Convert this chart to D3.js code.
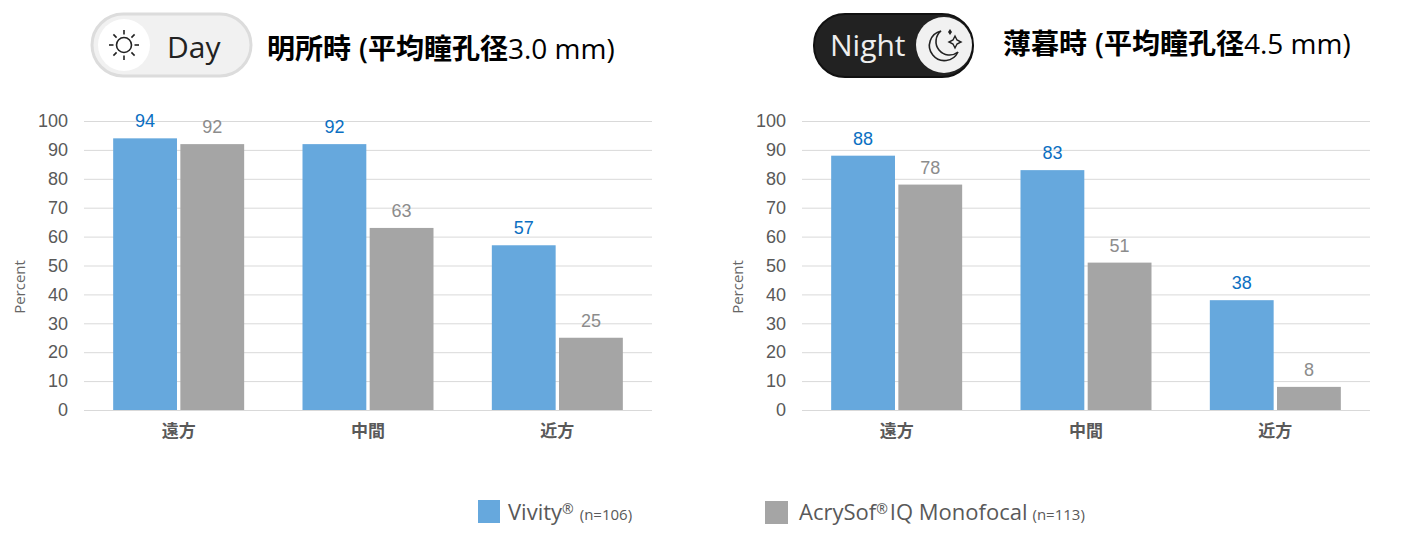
<!DOCTYPE html>
<html>
<head>
<meta charset="utf-8">
<script src="https://cdn.jsdelivr.net/npm/d3@7"></script>
<style>
  html, body { margin: 0; padding: 0; background: #fff; }
  svg { display: block; }
  text { font-family: "Liberation Sans", Arial, sans-serif; }
  .cjk { font-family: "Noto Sans CJK JP", sans-serif; }
  .open { font-family: "Open Sans", sans-serif; }
</style>
</head>
<body>
<div id="chart"></div>
<script>
// chart data
var categories = ["遠方", "中間", "近方"];
var seriesNames = ["Vivity", "AcrySof"];
var dayVivity = [94, 92, 57];
var dayAcrysof = [92, 63, 25];
var nightVivity = [88, 83, 38];
var nightAcrysof = [78, 51, 8];
var yTicks = [0, 10, 20, 30, 40, 50, 60, 70, 80, 90, 100];

var blue = "#66a8dd", gray = "#a5a5a5";

var svg = d3.select("#chart")
  .append("svg")
  .attr("width", 1422)
  .attr("height", 549);

function drawChart(left, vivity, acrysof) {
  var x0 = d3.scaleBand().domain(categories).range([left, left + 568]);
  var x1 = d3.scaleBand().domain(seriesNames).range([0, 131]).paddingInner(0.05);
  var y = d3.scaleLinear().domain([0, 100]).range([410, 121]);

  var g = svg.append("g");

  // gridlines
  g.selectAll("line.grid")
    .data(yTicks)
    .enter()
    .append("line")
    .attr("x1", left)
    .attr("x2", left + 568)
    .attr("y1", d => y(d) + 0.5)
    .attr("y2", d => y(d) + 0.5)
    .attr("stroke", "#d9d9d9")
    .attr("stroke-width", 1);

  // y axis labels
  var yAxis = d3.axisLeft(y).tickValues(yTicks).tickSize(0).tickPadding(16);
  var yg = g.append("g")
    .attr("transform", `translate(${left}, 0)`)
    .call(yAxis);
  yg.select(".domain").remove();
  yg.selectAll("text")
    .attr("font-size", 18)
    .attr("fill", "#595959")
    .style("font-family", '"Liberation Sans", Arial, sans-serif');

  g.append("text")
    .attr("transform", `translate(${left - 59}, 287) rotate(-90)`)
    .attr("text-anchor", "middle")
    .attr("font-size", 15)
    .attr("fill", "#666")
    .attr("class", "open")
    .text("Percent");

  // x axis labels
  var xAxis = d3.axisBottom(x0).tickSize(0).tickPadding(15);
  var xg = g.append("g")
    .attr("transform", "translate(0, 410)")
    .call(xAxis);
  xg.select(".domain").remove();
  xg.selectAll("text")
    .attr("font-size", 17)
    .attr("font-weight", 700)
    .attr("fill", "#595959")
    .style("font-family", '"Noto Sans CJK JP", sans-serif');

  // bars and value labels
  var rows = [
    { name: seriesNames[0], values: vivity, fill: blue, label: "#0b6fc2" },
    { name: seriesNames[1], values: acrysof, fill: gray, label: "#8c8c8c" }
  ];
  rows.forEach(function(row) {
    var off = (x0.bandwidth() - 131) / 2 + x1(row.name);
    g.selectAll("rect." + row.name)
      .data(row.values)
      .enter()
      .append("rect")
      .attr("class", row.name)
      .attr("x", (d, i) => x0(categories[i]) + off)
      .attr("y", d => y(d))
      .attr("width", x1.bandwidth())
      .attr("height", d => 410 - y(d))
      .attr("fill", row.fill);
    g.selectAll("text." + row.name)
      .data(row.values)
      .enter()
      .append("text")
      .attr("class", row.name)
      .attr("x", (d, i) => x0(categories[i]) + off + x1.bandwidth() / 2)
      .attr("y", d => y(d) - 11)
      .attr("text-anchor", "middle")
      .attr("font-size", 18)
      .attr("fill", row.label)
      .text(d => d);
  });
}

drawChart(84, dayVivity, dayAcrysof);
drawChart(802, nightVivity, nightAcrysof);

// titles
function drawTitle(x, yPos, head, mm) {
  var t = svg.append("text").attr("x", x).attr("y", yPos).attr("font-size", 28).attr("fill", "#000");
  t.append("tspan").attr("class", "cjk").attr("font-weight", 700).text(head);
  t.append("tspan").attr("class", "open").attr("dx", 8).attr("font-weight", 600).text("(");
  t.append("tspan").attr("class", "cjk").attr("font-weight", 700).text("平均瞳孔径");
  t.append("tspan").attr("class", "open").text(mm);
}
drawTitle(267, 59, "明所時", "3.0 mm)");
drawTitle(1003, 54, "薄暮時", "4.5 mm)");

// Day toggle
var day = svg.append("g");
day.append("rect").attr("x", 92).attr("y", 14).attr("width", 159).attr("height", 62).attr("rx", 31)
  .attr("fill", "#f1f1f1").attr("stroke", "#dcdcdc").attr("stroke-width", 3);
day.append("circle").attr("cx", 124).attr("cy", 45).attr("r", 26).attr("fill", "#fff");
day.append("circle").attr("cx", 124).attr("cy", 45).attr("r", 7.5).attr("fill", "none").attr("stroke", "#222").attr("stroke-width", 1.6);
d3.range(8).forEach(function(i) {
  var a = i * Math.PI / 4;
  day.append("line")
    .attr("x1", 124 + 10.5 * Math.cos(a)).attr("y1", 45 + 10.5 * Math.sin(a))
    .attr("x2", 124 + 15 * Math.cos(a)).attr("y2", 45 + 15 * Math.sin(a))
    .attr("stroke", "#222").attr("stroke-width", 1.6);
});
day.append("text").attr("x", 167).attr("y", 58).attr("class", "open").attr("font-size", 30).attr("fill", "#222").text("Day");

// Night toggle
var night = svg.append("g");
night.append("rect").attr("x", 814).attr("y", 14).attr("width", 159).attr("height", 63).attr("rx", 31)
  .attr("fill", "#222").attr("stroke", "#111").attr("stroke-width", 2);
night.append("text").attr("x", 830).attr("y", 56).attr("class", "open").attr("font-size", 30).attr("fill", "#eee").text("Night");
night.append("circle").attr("cx", 944).attr("cy", 45).attr("r", 28).attr("fill", "#f1f1f1");
night.append("path")
  .attr("d", "M941 31 A15 15 0 1 0 958 52 A13 13 0 0 1 941 31 Z")
  .attr("fill", "none").attr("stroke", "#222").attr("stroke-width", 1.6);
night.append("path")
  .attr("d", "M955 36 L957 40 L961 42 L957 44 L955 48 L953 44 L949 42 L953 40 Z")
  .attr("fill", "none").attr("stroke", "#222").attr("stroke-width", 1.4);
night.append("path")
  .attr("d", "M950 29 L952 32 L950 35 L948 32 Z")
  .attr("fill", "#222");

// legend
svg.append("rect").attr("x", 478).attr("y", 500).attr("width", 22).attr("height", 23).attr("fill", blue);
svg.append("rect").attr("x", 765).attr("y", 501).attr("width", 23).attr("height", 23).attr("fill", gray);

var leg1 = svg.append("text").attr("x", 508).attr("y", 520).attr("class", "open").attr("fill", "#595959").attr("font-size", 22);
leg1.append("tspan").text("Vivity");
leg1.append("tspan").attr("font-size", 14).attr("dy", -6).text("®");
leg1.append("tspan").attr("font-size", 15).attr("dy", 6).attr("dx", 6).text("(n=106)");

var leg2 = svg.append("text").attr("x", 799).attr("y", 520).attr("class", "open").attr("fill", "#595959").attr("font-size", 22);
leg2.append("tspan").text("AcrySof");
leg2.append("tspan").attr("font-size", 14).attr("dy", -6).text("®");
leg2.append("tspan").attr("dy", 6).attr("dx", 2).text("IQ Monofocal");
leg2.append("tspan").attr("font-size", 15).attr("dx", 5).text("(n=113)");
</script>
</body>
</html>
